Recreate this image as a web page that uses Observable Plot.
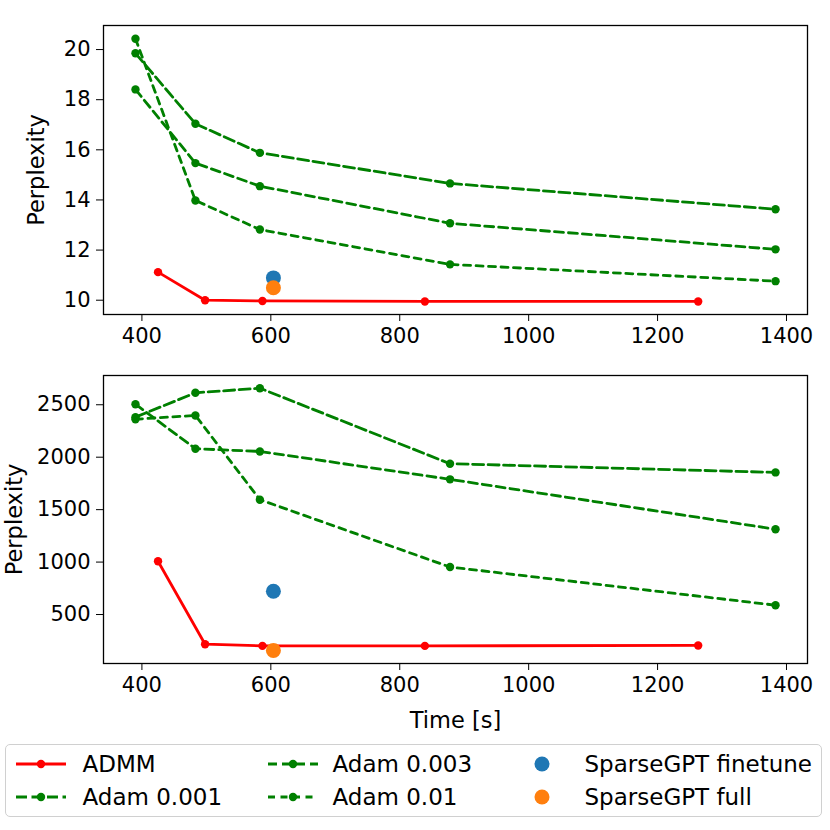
<!DOCTYPE html>
<html><head><meta charset="utf-8">
<script src="https://cdn.jsdelivr.net/npm/d3@7"></script>
<script src="https://cdn.jsdelivr.net/npm/@observablehq/plot@0.6"></script>
<style>
html,body{margin:0;padding:0;background:#fff;}
#wrap{position:relative;width:830px;height:830px;font-family:"DejaVu Sans",sans-serif;color:#000;}
#wrap svg{display:block;}
#legend{position:absolute;left:5px;top:744px;width:817px;height:73px;border:1.5px solid #d0d0d0;border-radius:5px;box-sizing:border-box;}
.item{position:absolute;display:flex;align-items:center;font-size:23px;height:30px;white-space:nowrap;}
</style></head><body><div id="wrap"><div id="top"></div><div id="bot"></div><div id="legend"></div></div>
<script>
// ---- data ----
const adamTime = [390, 483, 583, 878, 1383];
const admmTime = [425, 498, 587, 839, 1263];
const sgTime = [604];

const topADMM = [11.12, 10.0, 9.97, 9.95, 9.95];
const topAdam001 = [19.85, 17.04, 15.88, 14.66, 13.63];
const topAdam003 = [18.41, 15.47, 14.55, 13.07, 12.03];
const topAdam01 = [20.43, 13.98, 12.82, 11.43, 10.76];
const topSGFinetune = [10.89];
const topSGFull = [10.5];

const botADMM = [1008, 217, 201, 201, 205];
const botAdam001 = [2382, 2614, 2658, 1938, 1855];
const botAdam003 = [2505, 2081, 2055, 1789, 1313];
const botAdam01 = [2362, 2398, 1595, 953, 589];
const botSGFinetune = [722];
const botSGFull = [158];

const xTicks = [400, 600, 800, 1000, 1200, 1400];
const topYTicks = [10, 12, 14, 16, 18, 20];
const botYTicks = [500, 1000, 1500, 2000, 2500];

const seriesNames = ["ADMM", "Adam 0.001", "Adam 0.003", "Adam 0.01", "SparseGPT finetune", "SparseGPT full"];

// ---- styles ----
const RED = "red", GREEN = "green", BLUE = "#1f77b4", ORANGE = "#ff7f0e";
const dash = {"Adam 0.001": "11,4.5", "Adam 0.003": "9,5", "Adam 0.01": "7,5.5"};

function rows(xs, ys) { return xs.map((x, i) => ({x, y: ys[i]})); }

function panel({height, marginTop, marginBottom, yDomain, yTicks, admm, a1, a3, a10, sgF, sgU, xlabel, ylabelDx}) {
  const lineMarks = [];
  [["Adam 0.001", a1], ["Adam 0.003", a3], ["Adam 0.01", a10]].forEach(([name, ys]) => {
    const d = rows(adamTime, ys);
    lineMarks.push(Plot.line(d, {x: "x", y: "y", stroke: GREEN, strokeWidth: 2.8, strokeDasharray: dash[name]}));
    lineMarks.push(Plot.dot(d, {x: "x", y: "y", fill: GREEN, r: 4.2}));
  });
  const ad = rows(admmTime, admm);
  const marks = [
    Plot.frame({stroke: "#000", strokeWidth: 1.3}),
    ...lineMarks,
    Plot.line(ad, {x: "x", y: "y", stroke: RED, strokeWidth: 2.8}),
    Plot.dot(ad, {x: "x", y: "y", fill: RED, r: 4.2}),
    Plot.dot(rows(sgTime, sgF), {x: "x", y: "y", fill: BLUE, r: 7.5}),
    Plot.dot(rows(sgTime, sgU), {x: "x", y: "y", fill: ORANGE, r: 7.5}),
    Plot.text(["Perplexity"], {frameAnchor: "left", textAnchor: "middle", lineAnchor: "middle", dx: ylabelDx, rotate: -90, fontSize: 22.5, fill: "#000"})
  ];
  if (xlabel) marks.push(Plot.text([xlabel], {frameAnchor: "bottom", lineAnchor: "middle", dy: 57, fontSize: 22.5, fill: "#000"}));
  return Plot.plot({
    width: 830, height, marginTop, marginBottom, marginLeft: 103, marginRight: 23,
    style: {fontFamily: "DejaVu Sans, sans-serif", fontSize: "21px", color: "#000", background: "#fff", overflow: "visible"},
    x: {domain: [340.4, 1432.6], ticks: xTicks, tickSize: 7, tickPadding: 7, label: null, tickFormat: d3.format("d")},
    y: {domain: yDomain, ticks: yTicks, tickSize: 7, tickPadding: 6, label: null, tickFormat: d3.format("d")},
    marks
  });
}

document.getElementById("top").appendChild(panel({
  height: 345, marginTop: 25, marginBottom: 31, yDomain: [9.43, 20.96], yTicks: topYTicks,
  admm: topADMM, a1: topAdam001, a3: topAdam003, a10: topAdam01, sgF: topSGFinetune, sgU: topSGFull,
  ylabelDx: -67
}));
document.getElementById("bot").appendChild(panel({
  height: 395, marginTop: 30, marginBottom: 77, yDomain: [33, 2779], yTicks: botYTicks,
  admm: botADMM, a1: botAdam001, a3: botAdam003, a10: botAdam01, sgF: botSGFinetune, sgU: botSGFull,
  xlabel: "Time [s]", ylabelDx: -89
}));

// ---- legend ----
const legend = d3.select("#legend");
const positions = [[9.5, 3.5, 17], [9.5, 36.5, 17], [261.5, 3.5, 15], [261.5, 36.5, 15], [505.5, 3.5, 23], [505.5, 36.5, 23]];
const handleStyle = [
  {type: "line", color: RED, dash: null},
  {type: "line", color: GREEN, dash: dash["Adam 0.001"]},
  {type: "line", color: GREEN, dash: dash["Adam 0.003"]},
  {type: "line", color: GREEN, dash: dash["Adam 0.01"]},
  {type: "dot", color: BLUE},
  {type: "dot", color: ORANGE}
];
seriesNames.forEach((name, i) => {
  const [lx, ly, gap] = positions[i];
  const it = legend.append("div").attr("class", "item").style("left", lx + "px").style("top", ly + "px");
  const s = it.append("svg").attr("width", 50).attr("height", 30).style("margin-right", gap + "px");
  const h = handleStyle[i];
  if (h.type === "line") {
    const l = s.append("line").attr("x1", 0).attr("x2", 50).attr("y1", 15).attr("y2", 15)
      .attr("stroke", h.color).attr("stroke-width", 2.8);
    if (h.dash) l.attr("stroke-dasharray", h.dash);
    s.append("circle").attr("cx", 25).attr("cy", 15).attr("r", 4.2).attr("fill", h.color);
  } else {
    s.append("circle").attr("cx", 30).attr("cy", 15).attr("r", 7.5).attr("fill", h.color);
  }
  it.append("span").text(name);
});
</script>
</body></html>
